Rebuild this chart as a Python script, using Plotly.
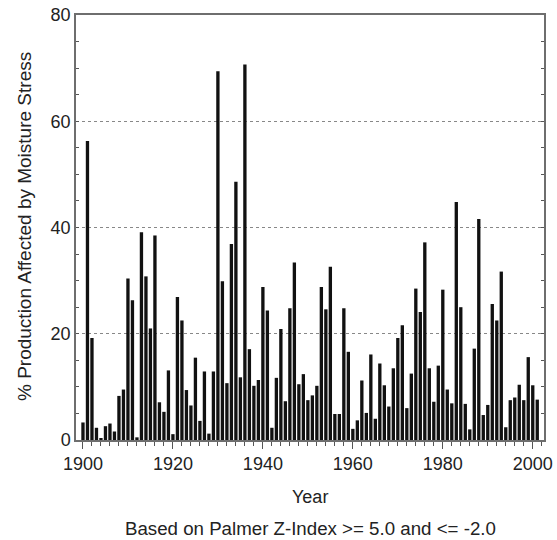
import plotly.graph_objects as go

years = list(range(1900, 2002))
values = [
    3.3, 56.3, 19.2, 2.3, 0.3, 2.6, 3.1, 1.6, 8.3, 9.5,
    30.4, 26.3, 0.5, 39.1, 30.8, 21.0, 38.5, 7.1, 5.3, 13.1,
    1.1, 26.9, 22.5, 9.4, 6.5, 15.5, 3.6, 12.9, 1.2, 12.9,
    69.4, 29.9, 10.7, 36.9, 48.6, 11.8, 70.7, 17.1, 10.2, 11.3,
    28.8, 24.4, 2.3, 11.7, 20.9, 7.3, 24.8, 33.4, 10.5, 12.4,
    7.5, 8.4, 10.2, 28.8, 24.6, 32.6, 4.9, 4.9, 24.8, 16.6,
    2.1, 3.7, 11.2, 5.1, 16.1, 4.0, 14.4, 10.3, 6.3, 13.5,
    19.2, 21.6, 6.0, 12.5, 28.5, 24.1, 37.2, 13.5, 7.2, 14.0,
    28.3, 9.5, 6.9, 44.8, 25.0, 6.8, 2.0, 17.2, 41.6, 4.7,
    6.6, 25.6, 22.5, 31.7, 2.4, 7.5, 8.0, 10.4, 7.5, 15.6,
    10.3, 7.6,
]
x_ticks = [1900, 1920, 1940, 1960, 1980, 2000]
y_ticks = [0, 20, 40, 60, 80]
x_title = "Year"
y_title = "% Production Affected by Moisture Stress"
subtitle = "Based on Palmer Z-Index >= 5.0 and <= -2.0"

W, H = 557, 540
L, R, T, B = 76, 13, 15, 100
PH = H - T - B
PW = W - L - R


def py(y_px):
    return (H - B - y_px) / PH


def px(x_px):
    return (x_px - L) / PW


fig = go.Figure(go.Bar(
    x=years, y=values, width=0.74,
    marker=dict(color="#111111", line=dict(width=0)),
))

font = "Liberation Sans, Arial, Helvetica, sans-serif"
txt = "#222222"
fig.update_layout(
    width=W, height=H,
    margin=dict(l=L, r=R, t=T, b=B, autoexpand=False),
    paper_bgcolor="white", plot_bgcolor="white",
    font=dict(family=font, color=txt, size=18),
    showlegend=False,
    annotations=[
        dict(text=x_title, x=0.5, xref="paper", y=py(497), yref="paper",
             xanchor="center", yanchor="middle", showarrow=False,
             font=dict(size=18, family=font, color=txt)),
        dict(text=subtitle, x=0.5, xref="paper", y=py(528), yref="paper",
             xanchor="center", yanchor="middle", showarrow=False,
             font=dict(size=18.7, family=font, color=txt)),
        dict(text=y_title, x=px(25), xref="paper", y=py(227), yref="paper",
             xanchor="center", yanchor="middle", textangle=-90, showarrow=False,
             font=dict(size=19, family=font, color=txt)),
    ],
)

fig.update_xaxes(
    range=[1898.45, 2002.5],
    tickvals=x_ticks, ticktext=[str(t) for t in x_ticks],
    ticks="outside", ticklen=7, tickwidth=1, tickcolor="#555555",
    minor=dict(dtick=2, tick0=1900, ticks="outside", ticklen=4, tickcolor="#555555", showgrid=False),
    showline=True, linecolor="#6e6e6e", linewidth=1.5, mirror=True,
    showgrid=False, zeroline=False, automargin=False,
    tickfont=dict(size=18),
)
fig.update_yaxes(
    range=[0, 80],
    tickvals=y_ticks,
    ticks="inside", ticklen=3, tickwidth=1, tickcolor="#555555",
    minor=dict(dtick=5, ticks="inside", ticklen=3, tickcolor="#555555", showgrid=False),
    showline=True, linecolor="#6e6e6e", linewidth=1.5, mirror="ticks",
    showgrid=True, gridcolor="#888888", griddash="dot", gridwidth=1,
    zeroline=False, automargin=False,
    tickfont=dict(size=18),
)

fig.write_html("out.html", config={"displayModeBar": False},
               post_script="document.body.style.margin='0';")
